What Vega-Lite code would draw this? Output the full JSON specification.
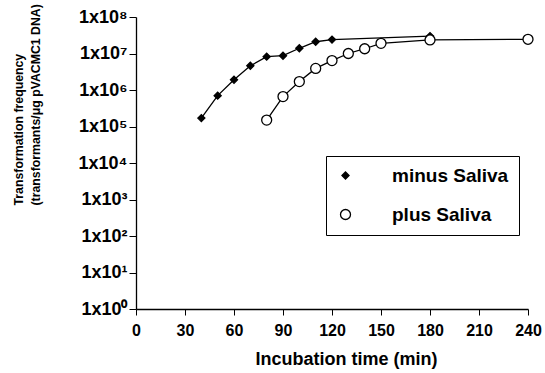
{
  "$schema": "https://vega.github.io/schema/vega-lite/v6.json",
  "width": 392,
  "height": 292,
  "autosize": {"type": "none"},
  "padding": {"left": 136, "top": 17, "right": 17, "bottom": 64},
  "background": "white",
  "config": {
    "view": {"stroke": null},
    "font": "Liberation Sans",
    "axis": {
      "grid": false,
      "domainColor": "black",
      "domainWidth": 1.3,
      "tickColor": "black",
      "tickWidth": 1,
      "labelColor": "black",
      "titleColor": "black",
      "labelFont": "Liberation Sans",
      "titleFont": "Liberation Sans",
      "labelFontWeight": "bold",
      "titleFontWeight": "bold"
    },
    "legend": {
      "orient": "none",
      "legendX": 190,
      "legendY": 139,
      "strokeColor": "black",
      "fillColor": "white",
      "padding": 10,
      "symbolStrokeWidth": 1.3,
      "symbolStrokeColor": "black",
      "symbolOpacity": 1,
      "labelFont": "Liberation Sans",
      "labelFontSize": 19,
      "labelFontWeight": "bold",
      "labelColor": "black",
      "labelOffset": 37,
      "rowPadding": 19
    }
  },
  "data": {
    "values": [
      {"time": 40, "freq": 170000, "series": "minus Saliva"},
      {"time": 50, "freq": 700000, "series": "minus Saliva"},
      {"time": 60, "freq": 1900000, "series": "minus Saliva"},
      {"time": 70, "freq": 4600000, "series": "minus Saliva"},
      {"time": 80, "freq": 8200000, "series": "minus Saliva"},
      {"time": 90, "freq": 8700000, "series": "minus Saliva"},
      {"time": 100, "freq": 13900000, "series": "minus Saliva"},
      {"time": 110, "freq": 21000000, "series": "minus Saliva"},
      {"time": 120, "freq": 24000000, "series": "minus Saliva"},
      {"time": 180, "freq": 30000000, "series": "minus Saliva"},
      {"time": 80, "freq": 150000, "series": "plus Saliva"},
      {"time": 90, "freq": 660000, "series": "plus Saliva"},
      {"time": 100, "freq": 1700000, "series": "plus Saliva"},
      {"time": 110, "freq": 3900000, "series": "plus Saliva"},
      {"time": 120, "freq": 6400000, "series": "plus Saliva"},
      {"time": 130, "freq": 10000000, "series": "plus Saliva"},
      {"time": 140, "freq": 13500000, "series": "plus Saliva"},
      {"time": 150, "freq": 19000000, "series": "plus Saliva"},
      {"time": 180, "freq": 23500000, "series": "plus Saliva"},
      {"time": 240, "freq": 24500000, "series": "plus Saliva"}
    ]
  },
  "encoding": {
    "x": {
      "field": "time",
      "type": "quantitative",
      "scale": {"domain": [0, 240], "nice": false, "zero": false},
      "axis": {
        "values": [0, 30, 60, 90, 120, 150, 180, 210, 240],
        "title": "Incubation time (min)",
        "labelFontSize": 16,
        "tickSize": 6,
        "labelPadding": 7,
        "titleFontSize": 18,
        "titleX": 210,
        "titleY": 50,
        "titleAlign": "center",
        "titleBaseline": "middle",
        "labelFlush": false
      }
    },
    "y": {
      "field": "freq",
      "type": "quantitative",
      "scale": {"type": "log", "domain": [1, 100000000], "nice": false},
      "axis": {
        "values": [1, 10, 100, 1000, 10000, 100000, 1000000, 10000000, 100000000],
        "labelExpr": "'1x10' + ['⁰','¹','²','³','⁴','⁵','⁶','⁷','⁸'][round(log(datum.value)/LN10)]",
        "labelFontSize": 18,
        "tickSize": 7,
        "labelPadding": 2,
        "labelFlush": false,
        "title": ["Transformation frequency", "(transformants/μg pVACMC1 DNA)"],
        "titleFontSize": 12.3,
        "titleLineHeight": 17.5,
        "titleAngle": -90,
        "titleAlign": "left",
        "titleBaseline": "top",
        "titleX": -124,
        "titleY": 188
      }
    }
  },
  "layer": [
    {
      "mark": {"type": "line", "color": "black", "strokeWidth": 1.3},
      "encoding": {
        "detail": {"field": "series", "type": "nominal"},
        "order": {"field": "time", "type": "quantitative"}
      }
    },
    {
      "mark": {"type": "point", "filled": true, "stroke": "black", "strokeWidth": 1.3, "opacity": 1},
      "encoding": {
        "shape": {
          "field": "series",
          "type": "nominal",
          "scale": {"domain": ["minus Saliva", "plus Saliva"], "range": ["diamond", "circle"]},
          "legend": {
            "title": null,
            "encode": {"symbols": {"update": {"stroke": {"value": "black"}, "strokeWidth": {"value": 1.3}}}}
          }
        },
        "fill": {
          "field": "series",
          "type": "nominal",
          "scale": {"domain": ["minus Saliva", "plus Saliva"], "range": ["black", "white"]},
          "legend": {
            "title": null,
            "encode": {"symbols": {"update": {"stroke": {"value": "black"}, "strokeWidth": {"value": 1.3}}}}
          }
        },
        "size": {
          "field": "series",
          "type": "nominal",
          "scale": {"domain": ["minus Saliva", "plus Saliva"], "range": [50, 100]},
          "legend": {
            "title": null,
            "encode": {"symbols": {"update": {"stroke": {"value": "black"}, "strokeWidth": {"value": 1.3}}}}
          }
        }
      }
    }
  ]
}
